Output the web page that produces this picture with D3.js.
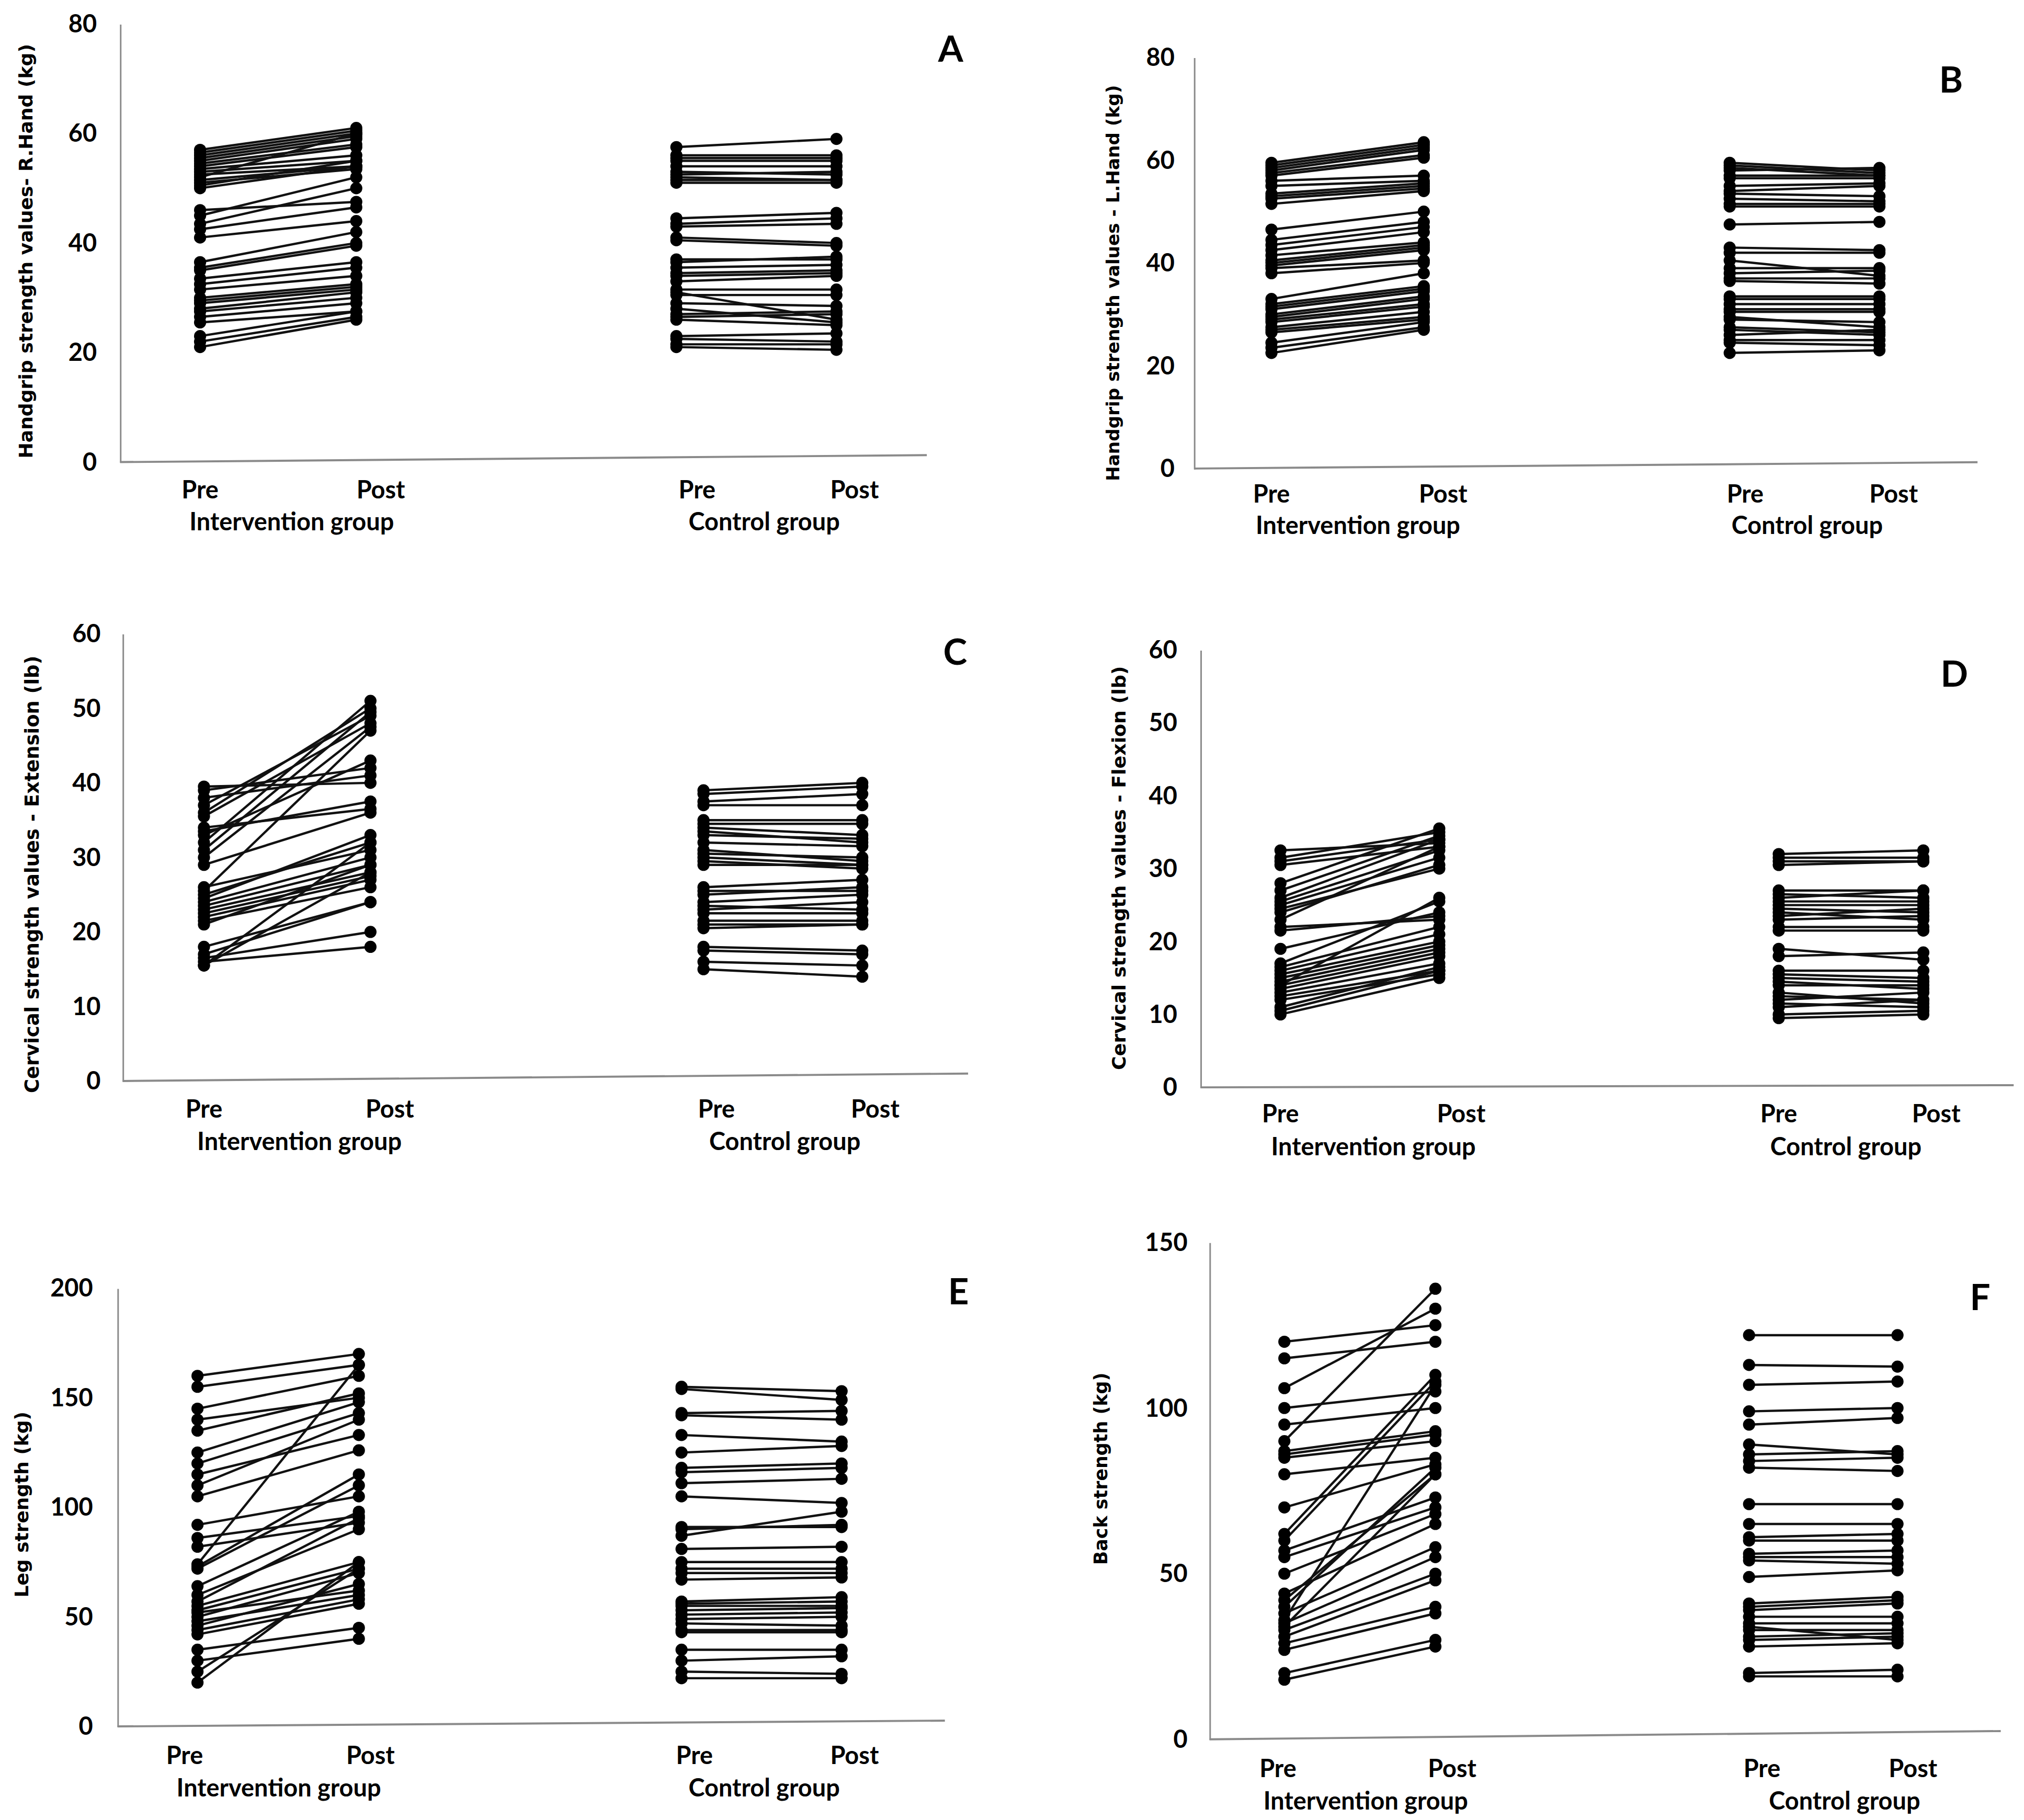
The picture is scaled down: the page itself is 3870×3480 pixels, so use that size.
<!DOCTYPE html>
<html lang="en">
<head>
<meta charset="UTF-8">
<title>Strength values before and after, intervention vs control</title>
<script src="https://d3js.org/d3.v7.min.js"></script>
<style>
  body { margin: 0; padding: 0; background: #fff; }
  svg { display: block; }
  .lbl { font-family: Lato, 'Open Sans', sans-serif; font-weight: 700; fill: #000; }
  .ytitle { font-family: 'DejaVu Sans', Verdana, sans-serif; font-weight: 700; fill: #000; }
</style>
</head>
<body>
<script>
// category / group labels
const timepoints = ["Pre", "Post", "Pre", "Post"];
const groups = ["Intervention group", "Control group"];
const panelLetters = ["A", "B", "C", "D", "E", "F"];
const yTitles = [
  "Handgrip strength values- R.Hand (kg)",
  "Handgrip strength values - L.Hand (kg)",
  "Cervical strength values - Extension (lb)",
  "Cervical strength values - Flexion (lb)",
  "Leg strength (kg)",
  "Back strength (kg)"
];
const yMax = [80, 80, 60, 60, 200, 150];
const yStep = [20, 20, 10, 10, 50, 50];

// A - handgrip right hand
const aIntPre  = [57, 56.5, 56, 55.5, 55, 54.5, 54, 53.5, 53, 52.5, 52, 51.5, 51, 50.5, 50, 46, 45, 43.5, 42.5, 41, 36.5, 35.5, 35, 33.5, 32.5, 31.5, 30, 29.5, 29, 28, 27.5, 26.5, 25.5, 23, 22, 21];
const aIntPost = [61, 60.5, 60, 59.5, 59, 58, 57.5, 56, 55, 54, 60, 54, 53.5, 55, 54, 47.5, 52, 50, 46.5, 44, 42, 40, 39.5, 36.5, 35.5, 34, 32.5, 32, 31.5, 31, 30, 29, 27.5, 27.5, 26.5, 26];
const aCtlPre  = [57.5, 56, 55.5, 55, 54, 53, 52.5, 52, 51.5, 51, 44.5, 43.5, 43, 41, 40.5, 37, 36.5, 35.5, 34.5, 34, 33, 31.5, 31, 30.5, 29, 28, 27, 26.5, 26, 23, 22.5, 21.5, 21];
const aCtlPost = [59, 56, 55.5, 55, 54, 52.5, 53, 51.5, 51.5, 51, 45.5, 44.5, 43.5, 40, 39.5, 37, 37.5, 36, 35, 34.5, 34, 31.5, 26, 30.5, 28.5, 25.5, 27.5, 27, 25, 23.5, 22, 21.5, 20.5];

// B - handgrip left hand
const bIntPre  = [59.5, 59, 58.5, 58, 57.5, 57, 56, 55, 53.5, 53, 52.5, 51.5, 46.5, 44.5, 43.5, 42.5, 41.5, 40.5, 40, 39.5, 39, 38, 33, 32, 31.5, 31, 30, 29.5, 29, 28.5, 27.5, 27, 26.5, 24.5, 23.5, 22.5];
const bIntPost = [63.5, 63, 62.5, 62, 61, 60.5, 57, 56, 55.5, 55, 54.5, 54, 50, 48, 47, 46, 44, 43.5, 43, 42.5, 40.5, 40, 38, 35.5, 35, 34.5, 33.5, 33, 32, 31.5, 30.5, 29.5, 29, 28.5, 27.5, 27];
const bCtlPre  = [59.5, 59, 58.5, 58, 57, 56.5, 55, 54, 53.5, 52.5, 51.5, 51, 47.5, 43, 42, 40.5, 39, 38, 37, 36.5, 33.5, 33, 32, 31, 30.5, 29.5, 29, 27.5, 27, 26, 25, 24.5, 22.5];
const bCtlPost = [58, 57.5, 57, 58.5, 57, 56.5, 55.5, 55, 53, 52, 51.5, 51, 48, 42.5, 42, 37.5, 39, 38.5, 37, 36, 33.5, 33, 32, 31, 30.5, 27.5, 28.5, 26.5, 26, 27, 25, 24, 23];

// C - cervical extension
const cIntPre  = [39.5, 39, 38, 37, 36, 35.5, 34, 33.5, 33, 32, 31, 30, 29, 25.5, 26, 25, 24.5, 24, 23.5, 23, 22.5, 22, 21.5, 21, 18, 17, 16.5, 16, 15.5, 15.5];
const cIntPost = [40, 42, 41, 49, 50, 48, 36.5, 37.5, 43, 51, 49.5, 47.5, 36, 47, 31, 32, 33, 30, 29, 28, 27.5, 27, 26, 29, 24, 24, 20, 18, 32, 28];
const cCtlPre  = [39, 38.5, 37.5, 37, 35, 34.5, 34, 33.5, 33, 32, 31, 30.5, 30, 29.5, 29, 26, 25.5, 25, 24, 23.5, 23, 22.5, 21.5, 21, 20.5, 18, 17.5, 16, 15];
const cCtlPost = [40, 39.5, 38.5, 37, 35, 34.5, 33, 32, 32.5, 31.5, 29.5, 30, 29, 28.5, 29, 27, 25.5, 26, 25, 23, 24, 22.5, 21.5, 21, 21, 17.5, 17, 15.5, 14];

// D - cervical flexion
const dIntPre  = [32.5, 31.5, 31, 30.5, 28, 27, 26, 25.5, 25, 24.5, 24, 23, 22, 21.5, 19, 17, 16.5, 16, 15.5, 15, 14.5, 14, 13.5, 13, 12.5, 12, 11, 10.5, 10, 14];
const dIntPost = [33.5, 35, 34, 33, 35.5, 34.5, 34, 32.5, 31.5, 30, 30.5, 33, 23, 23.5, 24, 25.5, 22, 21, 20, 19.5, 19, 18.5, 18, 17, 16, 15.5, 16.5, 16, 15, 26];
const dCtlPre  = [32, 31.5, 31, 30.5, 27, 26.5, 26, 25.5, 25, 24.5, 24, 23.5, 23, 22, 21.5, 19, 18, 16, 15.5, 15, 14.5, 14, 13, 12.5, 12, 11.5, 11, 10, 9.5];
const dCtlPost = [32.5, 31.5, 31, 31, 27, 26, 27, 25.5, 25, 24, 23, 24.5, 23.5, 22, 21.5, 17.5, 18.5, 16, 15, 14.5, 13.5, 14, 11.5, 12, 13, 11, 12, 10.5, 10];

// E - leg strength
const eIntPre  = [160, 155, 145, 140, 135, 125, 120, 115, 110, 105, 92, 86, 82, 74, 73, 72, 64, 60, 57, 55, 53, 52, 50, 48, 46, 44, 42, 35, 30, 25, 20];
const eIntPost = [170, 165, 160, 150, 152, 148, 143, 133, 140, 126, 105, 96, 93, 165, 115, 110, 98, 90, 95, 75, 72, 62, 70, 60, 65, 58, 56, 45, 40, 72, 75];
const eCtlPre  = [155, 154, 143, 142, 133, 125, 118, 116, 111, 105, 91, 90, 87, 81, 75, 72, 70, 67, 57, 56, 55, 53, 51, 49, 47, 44, 43, 35, 30, 25, 22];
const eCtlPost = [153, 149, 144, 140, 130, 128, 120, 118, 113, 102, 91, 92, 98, 82, 75, 72, 70, 68, 59, 57, 55, 54, 52, 50, 46, 44, 43, 35, 32, 24, 22];

// F - back strength
const fIntPre  = [120, 115, 106, 100, 95, 90, 87, 86, 85, 80, 70, 62, 60, 57, 55, 50, 44, 42, 40, 38, 36, 35, 34, 33, 31, 29, 27, 20, 18];
const fIntPost = [125, 120, 130, 105, 100, 136, 93, 92, 90, 85, 83, 110, 108, 73, 70, 68, 65, 80, 82, 58, 107, 55, 80, 50, 48, 40, 38, 30, 28];
const fCtlPre  = [122, 113, 107, 99, 95, 89, 86, 84, 82, 71, 65, 61, 60, 56, 55, 54, 49, 41, 40, 39, 37, 35, 34, 33, 31, 30, 28, 20, 19];
const fCtlPost = [122, 112.5, 108, 100, 97, 86, 87, 85, 81, 71, 65, 62, 60, 57, 55, 53, 51, 43, 42, 41, 37, 35, 30, 33, 32, 31, 29, 21, 19];

const series = [
  [[aIntPre, aIntPost], [aCtlPre, aCtlPost]],
  [[bIntPre, bIntPost], [bCtlPre, bCtlPost]],
  [[cIntPre, cIntPost], [cCtlPre, cCtlPost]],
  [[dIntPre, dIntPost], [dCtlPre, dCtlPost]],
  [[eIntPre, eIntPost], [eCtlPre, eCtlPost]],
  [[fIntPre, fIntPost], [fCtlPre, fCtlPost]]
];

// panel placement, in a 1568 x 1410 frame scaled up to the page
const W = 1568, H = 1410;
const layout = [
  { ax: 93,  y0: 358,    yTop: 18.5,  cols: [155, 276, 524, 648],   catX: [155, 295, 540, 662],   groupX: [226, 592],   xEnd: 718,  tilt: -5.4, tickRight: 75,  catY: 378.7,  groupY: 403.5,  titleX: 20,  titleY: 194.6,  titleLen: 321, letterX: 736.5,  letterY: 37 },
  { ax: 925, y0: 363,    yTop: 44.5,  cols: [985, 1103, 1340, 1456], catX: [985, 1118, 1352, 1467], groupX: [1052, 1400], xEnd: 1532, tilt: -4.9, tickRight: 910, catY: 382.2,  groupY: 406.5,  titleX: 862, titleY: 219.3,  titleLen: 307, letterX: 1511.5, letterY: 61 },
  { ax: 95,  y0: 837.5,  yTop: 491,   cols: [158, 287, 545, 668],   catX: [158, 302, 555, 678],   groupX: [232, 608],   xEnd: 750,  tilt: -5.8, tickRight: 78,  catY: 858.4,  groupY: 883.8,  titleX: 25,  titleY: 677.4,  titleLen: 339, letterX: 740,    letterY: 504.4 },
  { ax: 930, y0: 842.4,  yTop: 503.5, cols: [992, 1115, 1378, 1490], catX: [992, 1132, 1378, 1500], groupX: [1064, 1430], xEnd: 1560, tilt: -1.7, tickRight: 912, catY: 862.4,  groupY: 887.8,  titleX: 867, titleY: 672.5,  titleLen: 313, letterX: 1514,   letterY: 521.4 },
  { ax: 91,  y0: 1337.5, yTop: 998,   cols: [153, 278, 528, 652],   catX: [143, 287, 538, 662],   groupX: [216, 592],   xEnd: 732,  tilt: -4.5, tickRight: 72,  catY: 1359.2, groupY: 1384.5, titleX: 17,  titleY: 1165.6, titleLen: 144, letterX: 742.5,  letterY: 999.8 },
  { ax: 937, y0: 1347.5, yTop: 962.5, cols: [995, 1112, 1355, 1470], catX: [990, 1125, 1365, 1482], groupX: [1058, 1429], xEnd: 1550, tilt: -6.4, tickRight: 920, catY: 1369.6, groupY: 1394.5, titleX: 853, titleY: 1137.9, titleLen: 149, letterX: 1534,   letterY: 1004.1 }
];
const catIndex = [1, 2, 4, 5];      // gap between the two groups

const svg = d3.select("body").append("svg")
    .attr("width", 3870)
    .attr("height", 3480)
    .attr("viewBox", `0 0 ${W} ${H}`)
    .attr("preserveAspectRatio", "none");

series.forEach((panel, i) => {
    const L = layout[i];
    const g = svg.append("g");

    const y = d3.scaleLinear().domain([0, yMax[i]]).range([L.y0, L.yTop]);
    const x = d3.scaleLinear().domain(catIndex).range(L.cols);

    // y axis
    const yAxis = g.append("g")
        .attr("transform", `translate(${L.ax},0)`)
        .call(d3.axisLeft(y)
            .tickValues(d3.range(0, yMax[i] + 1, yStep[i]))
            .tickSize(0)
            .tickSizeOuter(0)
            .tickPadding(L.ax - L.tickRight)
            .tickFormat(d3.format("d")));
    yAxis.select(".domain").attr("stroke", "#8a8a8a").attr("stroke-width", 1.2);
    yAxis.selectAll(".tick text").attr("class", "lbl").style("font-size", "19px");

    // x axis line (slightly slanted as in the source figure)
    g.append("line")
        .attr("x1", L.ax).attr("y1", L.y0)
        .attr("x2", L.xEnd).attr("y2", L.y0 + L.tilt)
        .attr("stroke", "#8a8a8a")
        .attr("stroke-width", 1.6);

    // Pre / Post labels
    g.selectAll(".cat")
        .data(timepoints)
        .join("text")
        .attr("class", "lbl")
        .attr("x", (d, k) => L.catX[k])
        .attr("y", L.catY)
        .attr("text-anchor", "middle")
        .attr("dominant-baseline", "central")
        .style("font-size", "19px")
        .text(d => d);

    g.selectAll(".grp")
        .data(groups)
        .join("text")
        .attr("class", "lbl")
        .attr("x", (d, k) => L.groupX[k])
        .attr("y", L.groupY)
        .attr("text-anchor", "middle")
        .attr("dominant-baseline", "central")
        .style("font-size", "19px")
        .text(d => d);

    // y title, sized to the span it covers in the original
    const title = g.append("text")
        .attr("class", "ytitle")
        .attr("transform", `translate(${L.titleX},${L.titleY}) rotate(-90)`)
        .attr("text-anchor", "middle")
        .attr("dominant-baseline", "central")
        .style("font-size", "14px")
        .text(yTitles[i]);
    const len = title.node().getComputedTextLength();
    title.style("font-size", (14 * L.titleLen / len).toFixed(2) + "px");

    // panel letter
    g.append("text")
        .attr("class", "lbl")
        .attr("x", L.letterX)
        .attr("y", L.letterY)
        .attr("text-anchor", "middle")
        .attr("dominant-baseline", "central")
        .style("font-size", "28px")
        .text(panelLetters[i]);

    // paired lines and dots
    panel.forEach(([pre, post], gi) => {
        const i0 = catIndex[gi * 2];
        const i1 = catIndex[gi * 2 + 1];
        const pairs = pre.map((v, k) => [v, post[k]]);
        const sg = g.append("g");

        sg.selectAll("line")
            .data(pairs)
            .join("line")
            .attr("x1", x(i0))
            .attr("x2", x(i1))
            .attr("y1", d => y(d[0]))
            .attr("y2", d => y(d[1]))
            .attr("stroke", "#111")
            .attr("stroke-width", 1.8);

        sg.selectAll(".pre")
            .data(pairs)
            .join("circle")
            .attr("class", "pre")
            .attr("cx", x(i0))
            .attr("cy", d => y(d[0]))
            .attr("r", 4.7)
            .attr("fill", "#000");

        sg.selectAll(".post")
            .data(pairs)
            .join("circle")
            .attr("class", "post")
            .attr("cx", x(i1))
            .attr("cy", d => y(d[1]))
            .attr("r", 4.7)
            .attr("fill", "#000");
    });
});
</script>
</body>
</html>
